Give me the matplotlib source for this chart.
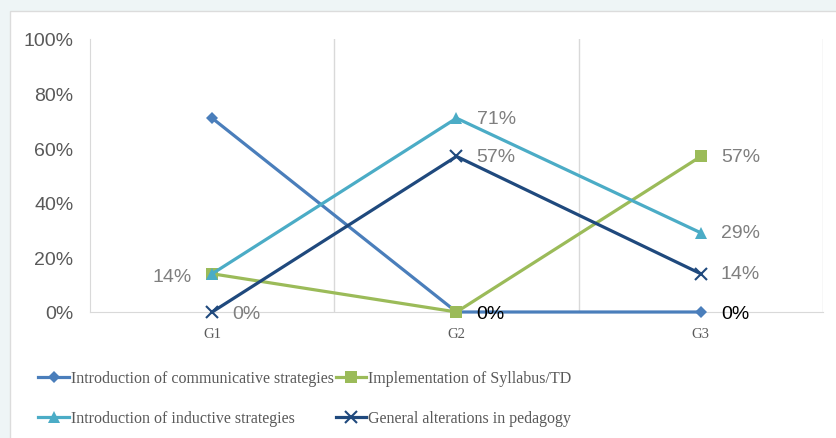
import matplotlib.pyplot as plt
from matplotlib.patches import Rectangle

groups = ["G1", "G2", "G3"]
series_names = [
    "Introduction of communicative strategies",
    "Implementation of Syllabus/TD",
    "Introduction of inductive strategies",
    "General alterations in pedagogy",
]
communicative = [71, 0, 0]
syllabus = [14, 0, 57]
inductive = [14, 71, 29]
general = [0, 57, 14]
y_ticks = [0, 20, 40, 60, 80, 100]

colors = ["#4a7ebb", "#9bbb59", "#4bacc6", "#1f497d"]
markers = ["D", "s", "^", "x"]
msizes = [6.5, 8, 9, 9]

W, H = 837, 439
fig = plt.figure(figsize=(W / 100, H / 100), dpi=100)
fig.patch.set_facecolor("#eef5f6")
fig.patches.append(Rectangle((10 / W, -0.01), 1, 1.01 - 12 / H, transform=fig.transFigure,
                             facecolor="white", edgecolor="#dcdcdc", lw=1, zorder=-1))

ax = fig.add_axes([90 / W, 1 - 313 / H, (823 - 90) / W, (313 - 40) / H])
ax.set_facecolor("none")
x = list(range(len(groups)))
data = [communicative, syllabus, inductive, general]
lines = []
for vals, c, m, ms, name in zip(data, colors, markers, msizes, series_names):
    ln, = ax.plot(x, vals, color=c, lw=2.3, marker=m, markersize=ms,
                  markeredgewidth=1.5 if m == "x" else 0, label=name, zorder=3,
                  clip_on=False)
    lines.append(ln)

ax.set_xlim(-0.5, 2.5)
ax.set_ylim(0, 100)
ax.set_yticks(y_ticks)
ax.set_yticklabels([f"{v}%" for v in y_ticks], fontsize=14, color="#595959",
                   family="Liberation Sans")
ax.set_xticks(x)
ax.set_xticklabels(groups, fontsize=10.5, color="#595959", family="Liberation Serif")
ax.tick_params(axis="y", length=0, pad=12)
ax.tick_params(axis="x", length=0, pad=11)
for xv in [0.5, 1.5, 2.5]:
    ax.axvline(xv, color="#d9d9d9", lw=1, zorder=1)
for s in ["top", "right"]:
    ax.spines[s].set_visible(False)
for s in ["left", "bottom"]:
    ax.spines[s].set_color("#d9d9d9")

grey = "#7f7f7f"
lab = dict(fontsize=14, family="Liberation Sans", va="center")
off = 14.5
ax.annotate("14%", (0, 14), xytext=(-off, -2), textcoords="offset points", ha="right", color=grey, **lab)
ax.annotate("0%", (0, 0), xytext=(off, -1), textcoords="offset points", ha="left", color=grey, **lab)
ax.annotate("71%", (1, 71), xytext=(off, 0), textcoords="offset points", ha="left", color=grey, **lab)
ax.annotate("57%", (1, 57), xytext=(off, 0), textcoords="offset points", ha="left", color=grey, **lab)
ax.annotate("0%", (1, 0), xytext=(off, -1), textcoords="offset points", ha="left", color="black", **lab)
ax.annotate("57%", (2, 57), xytext=(off, 0), textcoords="offset points", ha="left", color=grey, **lab)
ax.annotate("29%", (2, 29), xytext=(off, 0), textcoords="offset points", ha="left", color=grey, **lab)
ax.annotate("14%", (2, 14), xytext=(off, 0), textcoords="offset points", ha="left", color=grey, **lab)
ax.annotate("0%", (2, 0), xytext=(off, -1), textcoords="offset points", ha="left", color="black", **lab)

order = [0, 2, 1, 3]
leg = fig.legend(handles=[lines[i] for i in order], loc="upper left",
                 bbox_to_anchor=(24 / W, 1 - 357 / H),
                 ncol=2, frameon=False, handlelength=1.9, handletextpad=0.15,
                 columnspacing=0.1, labelspacing=1.5,
                 prop={"family": "Liberation Serif", "size": 11.5})
for t in leg.get_texts():
    t.set_color("#595959")

fig.savefig("out.png", dpi=100, facecolor=fig.get_facecolor())
